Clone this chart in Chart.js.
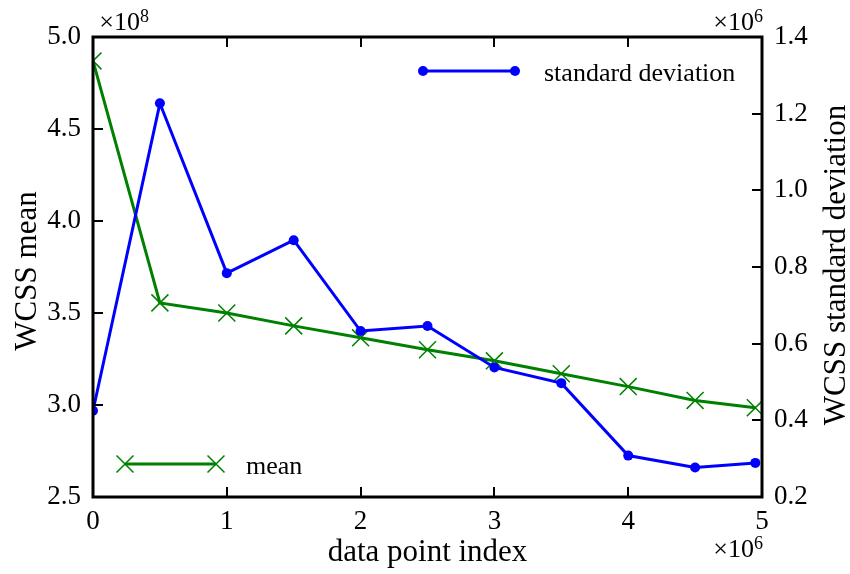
<!DOCTYPE html>
<html>
<head>
<meta charset="utf-8">
<script src="https://cdn.jsdelivr.net/npm/chart.js@4/dist/chart.umd.min.js"></script>
<style>
  html, body { margin: 0; padding: 0; background: #fff; }
  #wrap { width: 850px; height: 574px; }
</style>
</head>
<body>
<div id="wrap"><canvas id="c" width="850" height="574"></canvas></div>
<script>
// Sample positions (data point index) and the WCSS statistics measured there
const pointIndex = [0, 500000, 1000000, 1500000, 2000000, 2500000, 3000000, 3500000, 4000000, 4500000, 4950000];
const wcssMean = [4.87e8, 3.555e8, 3.50e8, 3.43e8, 3.365e8, 3.30e8, 3.24e8, 3.17e8, 3.10e8, 3.025e8, 2.985e8];
const wcssStd = [0.425e6, 1.227e6, 0.784e6, 0.870e6, 0.633e6, 0.646e6, 0.538e6, 0.497e6, 0.308e6, 0.277e6, 0.289e6];

// Tick positions (in the scaled units printed on the axes)
const xTicks = [0, 1, 2, 3, 4, 5];                    // ×10^6
const meanTicks = [2.5, 3.0, 3.5, 4.0, 4.5, 5.0];     // ×10^8
const stdTicks = [0.2, 0.4, 0.6, 0.8, 1.0, 1.2, 1.4]; // ×10^6

const labels = {
  x: 'data point index',
  yLeft: 'WCSS mean',
  yRight: 'WCSS standard deviation',
  mean: 'mean',
  std: 'standard deviation'
};

const GREEN = '#008000';
const BLUE = '#0000ff';
const SERIF = '"Liberation Serif", "Times New Roman", serif';

const meanPoints = pointIndex.map((x, i) => ({ x: x, y: wcssMean[i] }));
const stdPoints = pointIndex.map((x, i) => ({ x: x, y: wcssStd[i] }));

// Draws the black frame and inward-pointing ticks of all four sides
const framePlugin = {
  id: 'frame',
  afterDatasetsDraw(chart) {
    const { ctx, chartArea: a, scales } = chart;
    const L = 10;
    ctx.save();
    ctx.strokeStyle = '#000';
    ctx.lineWidth = 2;
    ctx.beginPath();
    xTicks.forEach(v => {
      const px = Math.round(scales.x.getPixelForValue(v * 1e6));
      ctx.moveTo(px, a.bottom); ctx.lineTo(px, a.bottom - L);
      ctx.moveTo(px, a.top); ctx.lineTo(px, a.top + L);
    });
    meanTicks.forEach(v => {
      const py = Math.round(scales.y.getPixelForValue(v * 1e8));
      ctx.moveTo(a.left, py); ctx.lineTo(a.left + L, py);
    });
    stdTicks.forEach(v => {
      const py = Math.round(scales.y2.getPixelForValue(v * 1e6));
      ctx.moveTo(a.right, py); ctx.lineTo(a.right - L, py);
    });
    ctx.stroke();
    ctx.lineWidth = 3;
    ctx.strokeRect(a.left, a.top, a.right - a.left, a.bottom - a.top);
    ctx.restore();
  }
};

function drawCircle(ctx, x, y, r, color) {
  ctx.fillStyle = color;
  ctx.beginPath();
  ctx.arc(x, y, r, 0, Math.PI * 2);
  ctx.fill();
}
function drawCross(ctx, x, y, r, color) {
  const d = r * Math.SQRT1_2;
  ctx.strokeStyle = color;
  ctx.lineWidth = 1.5;
  ctx.beginPath();
  ctx.moveTo(x - d, y - d); ctx.lineTo(x + d, y + d);
  ctx.moveTo(x - d, y + d); ctx.lineTo(x + d, y - d);
  ctx.stroke();
}

function drawPower(ctx, right, baseline, exp) {
  ctx.save();
  ctx.fillStyle = '#000';
  ctx.textBaseline = 'alphabetic';
  ctx.textAlign = 'left';
  ctx.font = '18px ' + SERIF;
  const ew = ctx.measureText(exp).width;
  ctx.font = '26px ' + SERIF;
  const bw = ctx.measureText('×10').width;
  const x0 = right - ew - bw;
  ctx.fillText('×10', x0, baseline);
  ctx.font = '18px ' + SERIF;
  ctx.fillText(exp, x0 + bw, baseline - 8);
  ctx.restore();
}

// Axis titles, scale multipliers and the two legend entries
const textPlugin = {
  id: 'texts',
  afterDraw(chart) {
    const { ctx, chartArea: a } = chart;
    ctx.save();
    ctx.fillStyle = '#000';
    ctx.font = '31px ' + SERIF;
    ctx.textAlign = 'center';
    ctx.textBaseline = 'alphabetic';
    ctx.fillText(labels.x, (a.left + a.right) / 2, 561);

    ctx.save();
    ctx.translate(36, 271);
    ctx.rotate(-Math.PI / 2);
    ctx.fillText(labels.yLeft, 0, 0);
    ctx.restore();

    ctx.save();
    ctx.translate(845, 265);
    ctx.rotate(-Math.PI / 2);
    ctx.fillText(labels.yRight, 0, 0);
    ctx.restore();
    ctx.restore();

    drawPower(ctx, 149, 30, '8');
    drawPower(ctx, 763, 30, '6');
    drawPower(ctx, 763, 557, '6');

    // legend: standard deviation (upper right)
    ctx.save();
    ctx.strokeStyle = BLUE;
    ctx.lineWidth = 3;
    ctx.beginPath();
    ctx.moveTo(423, 71); ctx.lineTo(515, 71);
    ctx.stroke();
    drawCircle(ctx, 423, 71, 5, BLUE);
    drawCircle(ctx, 515, 71, 5, BLUE);
    ctx.fillStyle = '#000';
    ctx.font = '26px ' + SERIF;
    ctx.textAlign = 'left';
    ctx.textBaseline = 'alphabetic';
    ctx.fillText(labels.std, 544, 81);

    // legend: mean (lower left)
    ctx.strokeStyle = GREEN;
    ctx.lineWidth = 3;
    ctx.beginPath();
    ctx.moveTo(125, 464); ctx.lineTo(216, 464);
    ctx.stroke();
    drawCross(ctx, 125, 464, 12, GREEN);
    drawCross(ctx, 216, 464, 12, GREEN);
    ctx.fillStyle = '#000';
    ctx.fillText(labels.mean, 246, 474);
    ctx.restore();
  }
};

const tickFont = { family: SERIF, size: 27 };

new Chart(document.getElementById('c'), {
  type: 'line',
  data: {
    datasets: [
      {
        label: labels.std,
        data: stdPoints,
        yAxisID: 'y2',
        borderColor: BLUE,
        backgroundColor: BLUE,
        borderWidth: 3,
        pointStyle: 'circle',
        pointRadius: 5,
        pointBorderWidth: 0,
        pointBackgroundColor: BLUE,
        tension: 0,
        clip: 0,
        order: 0
      },
      {
        label: labels.mean,
        data: meanPoints,
        yAxisID: 'y',
        borderColor: GREEN,
        backgroundColor: GREEN,
        borderWidth: 3,
        pointStyle: 'crossRot',
        pointRadius: 12,
        pointBorderWidth: 1.5,
        pointBorderColor: GREEN,
        tension: 0,
        clip: 0,
        order: 1
      }
    ]
  },
  options: {
    responsive: false,
    animation: false,
    events: [],
    layout: { padding: { top: 37, left: 0, right: 0, bottom: 0 } },
    plugins: { legend: { display: false }, tooltip: { enabled: false } },
    scales: {
      x: {
        type: 'linear',
        min: 0,
        max: 5e6,
        grid: { display: false, drawTicks: false },
        border: { display: false },
        afterBuildTicks: s => { s.ticks = xTicks.map(v => ({ value: v * 1e6 })); },
        afterFit: s => { s.height = 77; },
        ticks: {
          font: tickFont,
          color: '#000',
          padding: 9,
          maxRotation: 0,
          callback: v => String(Math.round(v / 1e6))
        }
      },
      y: {
        type: 'linear',
        position: 'left',
        min: 2.5e8,
        max: 5e8,
        grid: { display: false, drawTicks: false },
        border: { display: false },
        afterBuildTicks: s => { s.ticks = meanTicks.map(v => ({ value: v * 1e8 })); },
        afterFit: s => { s.width = 93; },
        ticks: {
          font: tickFont,
          color: '#000',
          padding: 12,
          callback: v => (v / 1e8).toFixed(1)
        }
      },
      y2: {
        type: 'linear',
        position: 'right',
        min: 0.2e6,
        max: 1.4e6,
        grid: { display: false, drawTicks: false },
        border: { display: false },
        afterBuildTicks: s => { s.ticks = stdTicks.map(v => ({ value: v * 1e6 })); },
        afterFit: s => { s.width = 88; },
        ticks: {
          font: tickFont,
          color: '#000',
          padding: 12,
          callback: v => (v / 1e6).toFixed(1)
        }
      }
    }
  },
  plugins: [framePlugin, textPlugin]
});
</script>
</body>
</html>
